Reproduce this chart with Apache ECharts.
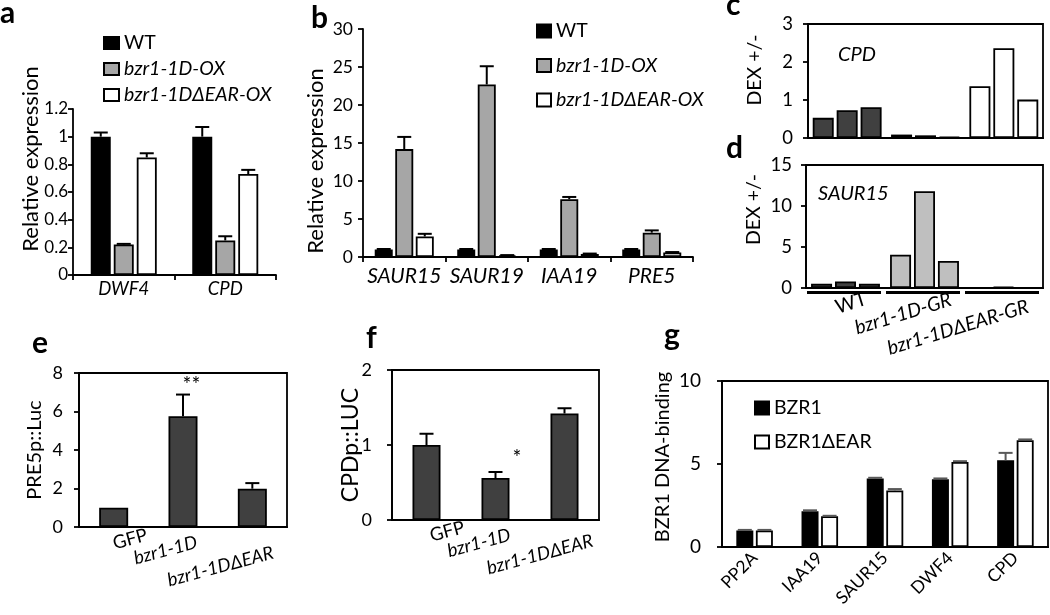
<!DOCTYPE html>
<html><head><meta charset="utf-8">
<script src="https://cdn.jsdelivr.net/npm/echarts@6/dist/echarts.min.js"></script>
<style>html,body{margin:0;padding:0;background:#fff}#c{width:1050px;height:615px}</style>
</head><body><div id="c"></div>
<script>
// ---------------- data ----------------
const seriesNames = ['WT', 'bzr1-1D-OX', 'bzr1-1D\u0394EAR-OX'];

const aCats = ['DWF4', 'CPD'];
const aWT = [1.0, 1.0];
const aOX = [0.22, 0.25];
const aEAR = [0.85, 0.73];
const aWTErr = [0.03, 0.07];
const aOXErr = [0.005, 0.03];
const aEARErr = [0.03, 0.03];

const bCats = ['SAUR15', 'SAUR19', 'IAA19', 'PRE5'];
const bWT = [1.0, 1.0, 1.0, 1.0];
const bOX = [14.2, 22.7, 7.6, 3.2];
const bEAR = [2.7, 0.2, 0.4, 0.6];
const bWTErr = [0.05, 0.05, 0.05, 0.05];
const bOXErr = [1.6, 2.4, 0.3, 0.3];
const bEARErr = [0.35, 0.05, 0.05, 0.05];

const cdCats = ['WT', 'bzr1-1D-GR', 'bzr1-1D\u0394EAR-GR'];
const cRep1 = [0.53, 0.09, 1.36];
const cRep2 = [0.73, 0.07, 2.36];
const cRep3 = [0.81, 0.03, 1.01];
const dRep1 = [0.52, 4.05, 0.05];
const dRep2 = [0.80, 11.8, 0.12];
const dRep3 = [0.52, 3.3, 0.05];

const efCats = ['GFP', 'bzr1-1D', 'bzr1-1D\u0394EAR'];
const eVals = [1.0, 5.75, 1.99];
const eErr = [0, 1.13, 0.29];
const eSig = ['', '**', ''];
const fVals = [1.0, 0.56, 1.42];
const fErr = [0.15, 0.08, 0.07];
const fSig = ['', '*', ''];

const gNames = ['BZR1', 'BZR1\u0394EAR'];
const gCats = ['PP2A', 'IAA19', 'SAUR15', 'DWF4', 'CPD'];
const gBZR1 = [1.0, 2.15, 4.12, 4.08, 5.22];
const gEAR = [1.0, 1.85, 3.41, 5.12, 6.43];
const gBZR1Err = [0.03, 0.06, 0.05, 0.05, 0.45];
const gEARErr = [0.03, 0.03, 0.08, 0.05, 0.05];

// ---------------- styles ----------------
const FONT = 'Lato';
const BLACK = '#000';
const cdColors = ['#404040', '#bfbfbf', '#ffffff'];
const axisLine = {show: true, lineStyle: {color: BLACK, width: 1.8}};

function yAxis(gi, max, interval, name, nameGap, fs, nameFs, margin, namePad, fmt) {
  return {
    type: 'value', gridIndex: gi, min: 0, max: max, interval: interval,
    axisLine: axisLine, splitLine: {show: false},
    axisTick: {show: true, inside: false, length: 5, lineStyle: {color: BLACK, width: 1.8}},
    axisLabel: {fontSize: fs, color: BLACK, margin: margin, fontFamily: FONT, formatter: fmt || (v => String(v))},
    name: name, nameLocation: 'middle', nameGap: nameGap, nameRotate: 90, nameMoveOverlap: false,
    nameTextStyle: {fontSize: nameFs, color: BLACK, fontFamily: FONT, padding: namePad || 0}
  };
}

function offRich(offs, italic, fs) {
  const rich = {};
  offs.forEach((o, i) => {
    const dx = o[0], dy = o[1];
    rich['l' + i] = {
      fontSize: fs, fontFamily: FONT, color: BLACK, fontStyle: italic[i] ? 'italic' : 'normal',
      padding: [dy > 0 ? 2 * dy : 0, dx < 0 ? -2 * dx : 0, dy < 0 ? -2 * dy : 0, dx > 0 ? 2 * dx : 0]
    };
  });
  return rich;
}

function bar(name, gi, data, color, bw, gap) {
  return {
    type: 'bar', name: name, xAxisIndex: gi, yAxisIndex: gi, data: data,
    barWidth: bw, barGap: gap, animation: false, silent: true,
    itemStyle: {color: color, borderColor: BLACK, borderWidth: 1.8}
  };
}

function err(gi, vals, errs, offset, cap, color, sig, sigOff) {
  return {
    type: 'custom', xAxisIndex: gi, yAxisIndex: gi, z: 5, silent: true, animation: false,
    encode: {x: 0, y: 1},
    data: vals.map((v, i) => [i, v, errs[i]]),
    renderItem: function (params, api) {
      const i = api.value(0), v = api.value(1), e = api.value(2);
      const p0 = api.coord([i, v]), p1 = api.coord([i, v + e]);
      const x = p0[0] + offset;
      const ch = [];
      if (e > 0) {
        ch.push({type: 'line', shape: {x1: x, y1: p0[1], x2: x, y2: p1[1]}, style: {stroke: color, lineWidth: 2}});
        ch.push({type: 'line', shape: {x1: x - cap / 2, y1: p1[1], x2: x + cap / 2, y2: p1[1]}, style: {stroke: color, lineWidth: 2}});
      }
      if (sig && sig[i]) {
        ch.push({type: 'text', x: x + sigOff[0], y: p1[1] + sigOff[1],
          style: {text: sig[i], fontSize: 21, fontFamily: FONT, fill: BLACK, align: 'center', verticalAlign: 'middle'}});
      }
      return {type: 'group', children: ch};
    }
  };
}

const chart = echarts.init(document.getElementById('c'), null, {renderer: 'canvas'});

const letter = (t, l, tp) => ({text: t, left: l, top: tp, padding: 0,
  textStyle: {fontSize: 30, fontWeight: 'bold', color: BLACK, fontFamily: FONT}});

const legendBase = (data, left, top, gap, iw, ih) => ({
  data: data, left: left, top: top, orient: 'vertical', itemGap: gap, itemWidth: iw, itemHeight: ih,
  icon: 'rect', selectedMode: false, padding: 0,
  formatter: n => (n === 'WT' || n.indexOf('BZR1') === 0) ? n : '{i|' + n + '}',
  textStyle: {fontSize: 19.5, color: BLACK, fontFamily: FONT,
    rich: {i: {fontSize: 19.5, fontStyle: 'italic', color: BLACK, fontFamily: FONT}}}
});

const catAxisAB = (gi, cats, fs, margin) => ({
  type: 'category', gridIndex: gi, data: cats,
  axisLine: axisLine,
  axisTick: {show: true, length: 5, alignWithLabel: false, lineStyle: {color: BLACK, width: 1.8}},
  axisLabel: {fontSize: fs, fontStyle: 'italic', color: BLACK, margin: margin, interval: 0, fontFamily: FONT}
});

const rotCatAxis = (gi, cats, rot, offs, italic, fs, show) => ({
  type: 'category', gridIndex: gi, data: cats,
  axisLine: axisLine, axisTick: {show: false},
  axisLabel: show ? {
    show: true, rotate: rot, align: 'center', verticalAlign: 'middle', margin: 0, interval: 0,
    formatter: (v, i) => '{l' + i + '|' + v + '}', rich: offRich(offs, italic, fs)
  } : {show: false}
});

const boxGrid = (l, t, w, h) => ({left: l, top: t, width: w, height: h, show: true,
  borderColor: BLACK, borderWidth: 1.8, backgroundColor: 'transparent', containLabel: false});

const option = {
  animation: false,
  backgroundColor: '#fff',
  textStyle: {fontFamily: FONT},
  title: [
    letter('a', 0, -2), letter('b', 311, 3), letter('c', 726, -10), letter('d', 726, 133),
    letter('e', 32, 328), letter('f', 366, 323), letter('g', 664, 320),
    {text: 'CPD', left: 838, top: 45, padding: 0, textStyle: {fontSize: 20, fontStyle: 'italic', fontWeight: 'normal', color: BLACK, fontFamily: FONT}},
    {text: 'SAUR15', left: 818, top: 184, padding: 0, textStyle: {fontSize: 20, fontStyle: 'italic', fontWeight: 'normal', color: BLACK, fontFamily: FONT}}
  ],
  legend: [
    legendBase(seriesNames, 103, 33, 6, 15, 12),
    legendBase(seriesNames, 536, 21, 14.5, 14, 13),
    legendBase(gNames, 754, 398, 14, 14, 13)
  ],
  grid: [
    {left: 73, top: 109, width: 203, height: 166},
    {left: 363, top: 29, width: 330, height: 228},
    boxGrid(808, 24, 235, 114),
    boxGrid(806, 165, 237, 123),
    boxGrid(79, 373, 208, 154),
    boxGrid(392, 370, 207, 150),
    boxGrid(722, 381, 326, 166)
  ],
  xAxis: [
    catAxisAB(0, aCats, 18.5, 5),
    catAxisAB(1, bCats, 21, 9),
    rotCatAxis(2, cdCats, 0, [], [], 18, false),
    rotCatAxis(3, cdCats, 17, [[1, 16], [-28, 18.5], [-55, 24.5]], [false, true, true], 19.5, true),
    rotCatAxis(4, efCats, 15, [[12.7, 16], [-23, 18], [-41, 30]], [false, true, true], 18.5, true),
    rotCatAxis(5, efCats, 15, [[17, 16.5], [-22, 18], [-32.7, 27]], [false, true, true], 18.5, true),
    {type: 'category', gridIndex: 6, data: gCats, axisLine: axisLine, axisTick: {show: false},
      axisLabel: {rotate: 45, fontSize: 17.5, color: BLACK, margin: 8, interval: 0, fontFamily: FONT}}
  ],
  yAxis: [
    yAxis(0, 1.2, 0.2, 'Relative expression', 31, 17, 22, 5, [0, 0, 0, 66], v => String(Math.round(v * 10) / 10)),
    yAxis(1, 30, 5, 'Relative expression', 36, 17.5, 22, 10, [0, 36, 0, 0]),
    yAxis(2, 3, 1, 'DEX +/-', 43, 18.5, 19.5, 15, [0, 0, 0, 22]),
    yAxis(3, 15, 5, 'DEX +/-', 42, 18.5, 19.5, 14, [0, 0, 0, 34]),
    yAxis(4, 8, 2, 'PRE5p::Luc', 34, 18, 20, 16, [6, 0, 0, 0]),
    yAxis(5, 2, 1, 'CPDp::LUC', 30, 18, 23, 20, 0),
    yAxis(6, 10, 5, 'BZR1 DNA-binding', 49, 19, 20, 21, [0, 0, 0, 14])
  ],
  series: [
    // a
    bar(seriesNames[0], 0, aWT, '#000000', 20, '15%'),
    bar(seriesNames[1], 0, aOX, '#a6a6a6', 20, '15%'),
    bar(seriesNames[2], 0, aEAR, '#ffffff', 20, '15%'),
    err(0, aWT, aWTErr, -23, 14, BLACK),
    err(0, aOX, aOXErr, 0, 14, BLACK),
    err(0, aEAR, aEARErr, 23, 14, BLACK),
    // b
    bar(seriesNames[0], 1, bWT, '#000000', 18, '14%'),
    bar(seriesNames[1], 1, bOX, '#a6a6a6', 18, '14%'),
    bar(seriesNames[2], 1, bEAR, '#ffffff', 18, '14%'),
    err(1, bWT, bWTErr, -20.5, 14, BLACK),
    err(1, bOX, bOXErr, 0, 14, BLACK),
    err(1, bEAR, bEARErr, 20.5, 14, BLACK),
    // c
    ...[cRep1, cRep2, cRep3].map((r, k) => bar('c' + k, 2,
      r.map((v, i) => ({value: v, itemStyle: {color: cdColors[i]}})), '#404040', 21, '14%')),
    // d
    ...[dRep1, dRep2, dRep3].map((r, k) => bar('d' + k, 3,
      r.map((v, i) => ({value: v, itemStyle: {color: cdColors[i]}})), '#404040', 21, '14%')),
    {type: 'custom', xAxisIndex: 3, yAxisIndex: 3, silent: true, clip: false, animation: false,
      encode: {x: 0, y: 1},
      data: cdCats.map((c, i) => [i, 0]),
      renderItem: function (params, api) {
        const p = api.coord([api.value(0), 0]);
        const w = api.size([1, 0])[0];
        return {type: 'line', shape: {x1: p[0] - w / 2 + 1, y1: p[1] + 4.5, x2: p[0] + w / 2 - 4, y2: p[1] + 4.5},
          style: {stroke: BLACK, lineWidth: 3}};
      }},
    // e
    bar('e', 4, eVals, '#404040', 29, '10%'),
    err(4, eVals, eErr, 0, 14, BLACK, eSig, [8.5, -9]),
    // f
    bar('f', 5, fVals, '#404040', 28, '10%'),
    err(5, fVals, fErr, 0, 14, BLACK, fSig, [21.5, -14]),
    // g
    bar(gNames[0], 6, gBZR1, '#000000', 17, '15%'),
    bar(gNames[1], 6, gEAR, '#ffffff', 17, '15%'),
    err(6, gBZR1, gBZR1Err, -9.8, 14, '#595959'),
    err(6, gEAR, gEARErr, 9.8, 14, '#595959')
  ]
};
chart.setOption(option);
</script>
</body></html>
